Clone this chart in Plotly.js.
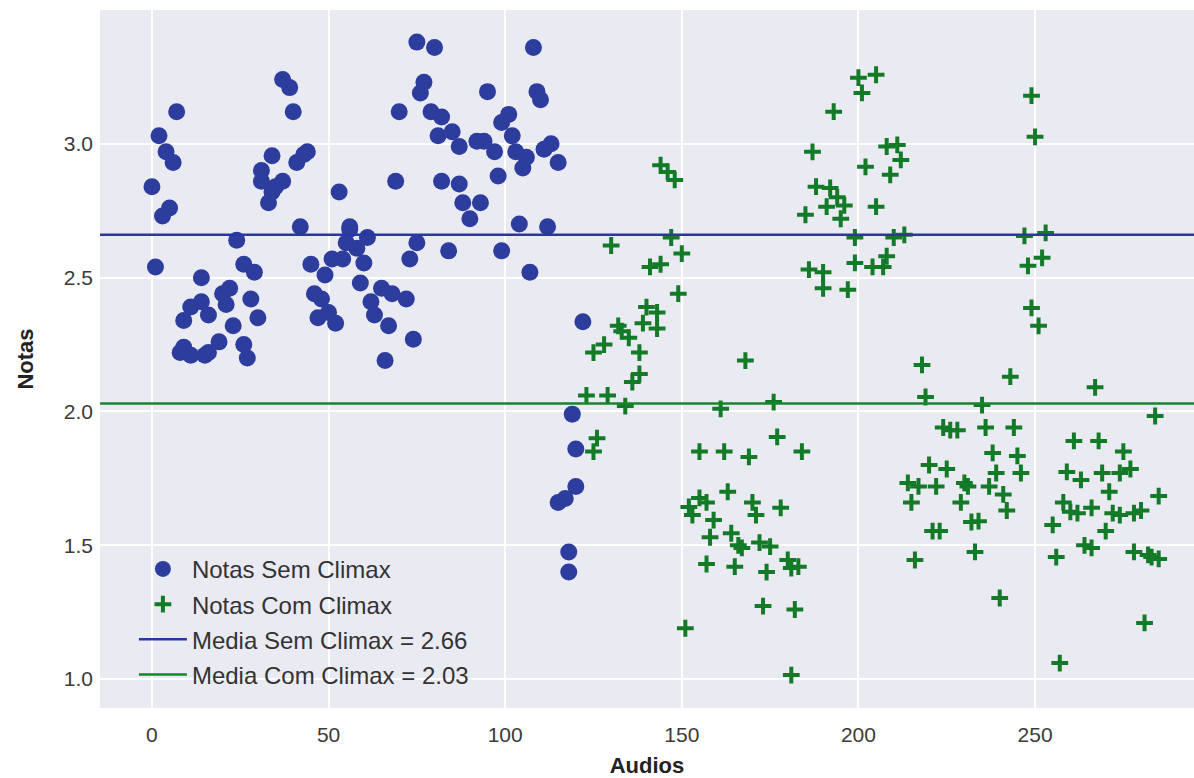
<!DOCTYPE html>
<html>
<head>
<meta charset="utf-8">
<script src="https://cdn.plot.ly/plotly-3.0.1.min.js"></script>
<style>
html,body{margin:0;padding:0;background:#fff;}
#chart{width:1194px;height:778px;}
</style>
</head>
<body>
<div id="chart"></div>
<script>
// Notas Sem Climax (audio index, nota)
const semX = [0,1,2,3,4,5,6,7,8,9,9,11,11,14,14,15,16,16,19,20,21,22,23,24,26,26,27,28,29,30,31,31,33,34,34,35,37,37,39,40,41,42,43,44,45,46,47,48,49,50,51,52,53,54,55,56,56,58,59,60,61,62,63,65,66,67,68,69,70,72,73,74,75,75,76,77,79,80,81,82,82,84,85,87,87,88,90,92,93,94,95,97,98,99,99,101,102,103,104,105,106,107,108,109,110,111,112,113,115,115,117,118,118,119,120,120,122];
const semY = [2.84,2.54,3.03,2.73,2.97,2.76,2.93,3.12,2.22,2.34,2.24,2.21,2.39,2.41,2.50,2.21,2.22,2.36,2.26,2.44,2.40,2.46,2.32,2.64,2.25,2.55,2.20,2.42,2.52,2.35,2.90,2.86,2.78,2.955,2.82,2.84,2.86,3.24,3.21,3.12,2.93,2.69,2.96,2.97,2.55,2.44,2.35,2.42,2.51,2.37,2.57,2.33,2.82,2.57,2.63,2.69,2.68,2.61,2.48,2.555,2.65,2.41,2.36,2.46,2.19,2.32,2.44,2.86,3.12,2.42,2.57,2.27,2.63,3.38,3.19,3.23,3.12,3.36,3.03,3.10,2.86,2.60,3.045,2.85,2.99,2.78,2.72,3.01,2.78,3.01,3.195,2.97,2.88,2.60,3.08,3.11,3.03,2.97,2.70,2.91,2.95,2.52,3.36,3.195,3.165,2.98,2.69,3.00,2.93,1.66,1.675,1.40,1.475,1.99,1.86,1.72,2.335];
// Notas Com Climax (audio index, nota)
const comX = [123,125,125,126,128,129,130,132,133,134,135,136,138,138,139,140,141,143,143,144,144,146,147,148,149,150,151,152,153,155,155,157,157,158,159,161,162,163,164,165,166,167,168,169,170,171,172,173,174,175,176,177,178,180,181,181,182,183,184,185,186,187,188,190,190,191,192,193,194,195,196,197,199,199,200,201,202,204,205,205,207,208,208,209,210,211,212,213,214,215,216,217,218,219,220,221,222,223,224,225,226,228,229,230,231,232,233,234,235,236,237,238,239,240,241,242,243,244,245,246,247,248,249,249,250,251,252,253,255,256,257,258,259,260,261,262,263,264,266,266,267,268,269,270,271,272,274,274,275,277,278,278,280,281,282,283,284,285,285];
const comY = [2.06,2.22,1.85,1.90,2.25,2.06,2.62,2.32,2.30,2.02,2.275,2.11,2.14,2.22,2.33,2.39,2.54,2.37,2.31,2.92,2.55,2.895,2.65,2.865,2.44,2.59,1.19,1.643,1.613,1.85,1.677,1.66,1.43,1.53,1.594,2.01,1.85,1.70,1.545,1.42,1.50,1.49,2.19,1.83,1.66,1.613,1.51,1.273,1.40,1.495,2.035,1.905,1.64,1.445,1.415,1.015,1.26,1.42,1.85,2.735,2.53,2.97,2.84,2.52,2.46,2.765,2.835,3.12,2.80,2.72,2.77,2.455,2.65,2.555,3.247,3.19,2.914,2.54,3.258,2.765,2.54,2.58,2.99,2.884,2.65,2.996,2.94,2.66,1.733,1.66,1.445,1.72,2.174,2.054,1.80,1.553,1.72,1.553,1.94,1.785,1.93,1.93,1.66,1.733,1.72,1.587,1.475,1.59,2.024,1.94,1.72,1.845,1.77,1.303,1.69,1.63,2.13,1.94,1.834,1.77,2.656,2.544,2.387,3.18,3.026,2.32,2.574,2.667,1.576,1.456,1.06,1.66,1.774,1.625,1.89,1.62,1.744,1.50,1.49,1.64,2.09,1.89,1.77,1.553,1.70,1.62,1.613,1.77,1.85,1.785,1.62,1.475,1.63,1.21,1.464,1.456,1.983,1.684,1.449];
const meanSem = 2.66;
const meanCom = 2.03;
const legendNames = ['Notas Sem Climax','Notas Com Climax','Media Sem Climax = ' + meanSem.toFixed(2),'Media Com Climax = ' + meanCom.toFixed(2)];
const yTicks = [1.0,1.5,2.0,2.5,3.0];
const xTicks = [0,50,100,150,200,250];

const blue = '#2d3d9e';
const blueLine = '#2a36a6';
const green = '#137a28';
const greenLine = '#17852b';

const traces = [
  {type:'scatter', mode:'markers', x: semX, y: semY, name: legendNames[0], legendgroup:'a',
   marker:{symbol:'circle', size:17, color: blue, line:{width:0}}},
  {type:'scatter', mode:'markers', x: comX, y: comY, name: legendNames[1], legendgroup:'b',
   marker:{symbol:'cross-thin', size:12, color: green, line:{width:4, color: green}}},
  {type:'scatter', mode:'lines', x:[null], y:[null], name: legendNames[2], legendgroup:'c', line:{color: blueLine, width:2.5}},
  {type:'scatter', mode:'lines', x:[null], y:[null], name: legendNames[3], legendgroup:'d', line:{color: greenLine, width:2.5}}
];

const layout = {
  width:1194, height:778,
  margin:{l:100, r:0, t:10, b:70},
  paper_bgcolor:'#ffffff',
  plot_bgcolor:'#eaeaf2',
  font:{family:'Liberation Sans, Arial, sans-serif', size:20, color:'#333333'},
  showlegend:true,
  legend:{x:0.031, y:0.016, xanchor:'left', yanchor:'bottom', bgcolor:'rgba(0,0,0,0)',
          font:{size:24, color:'#333333'}, tracegroupgap:1, itemwidth:48},
  xaxis:{range:[-14.7, 295], tickvals:xTicks, showgrid:true, gridcolor:'#ffffff', gridwidth:2,
         zeroline:false, showline:false, ticks:'', ticklen:0, automargin:false, ticklabelstandoff:12,
         tickfont:{size:21, color:'#3a3a3a'},
         title:{text:'<b>Audios</b>', font:{size:22, color:'#222222'}, standoff:12}},
  yaxis:{range:[0.892, 3.50], tickvals:yTicks, tickformat:'.1f', showgrid:true, gridcolor:'#ffffff', gridwidth:2,
         zeroline:false, showline:false, ticks:'', ticklen:0, automargin:false, ticklabelstandoff:6,
         tickfont:{size:21, color:'#3a3a3a'},
         title:{text:'<b>Notas</b>', font:{size:22, color:'#222222'}, standoff:24}},
  shapes:[
    {type:'line', xref:'paper', x0:0, x1:1, yref:'y', y0:meanSem, y1:meanSem, line:{color:blueLine, width:2.5}, layer:'above'},
    {type:'line', xref:'paper', x0:0, x1:1, yref:'y', y0:meanCom, y1:meanCom, line:{color:greenLine, width:2.5}, layer:'above'}
  ]
};

Plotly.newPlot('chart', traces, layout, {displayModeBar:false, staticPlot:true});
</script>
</body>
</html>
